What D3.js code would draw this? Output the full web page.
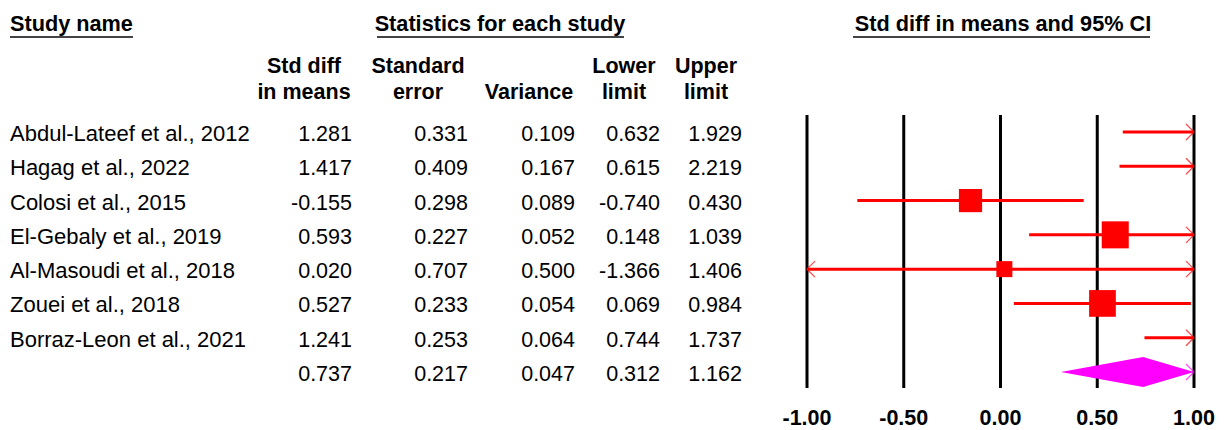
<!DOCTYPE html>
<html>
<head>
<meta charset="utf-8">
<script src="https://cdn.jsdelivr.net/npm/d3@7/dist/d3.min.js"></script>
<style>
  body { margin: 0; background: #fff; }
  svg text { font-family: "Liberation Sans", Arial, sans-serif; fill: #000; }
</style>
</head>
<body>
<script>
var studies = ["Abdul-Lateef et al., 2012", "Hagag et al., 2022", "Colosi et al., 2015",
    "El-Gebaly et al., 2019", "Al-Masoudi et al., 2018", "Zouei et al., 2018",
    "Borraz-Leon et al., 2021", ""];
var smd = [1.281, 1.417, -0.155, 0.593, 0.020, 0.527, 1.241, 0.737];
var stdErr = [0.331, 0.409, 0.298, 0.227, 0.707, 0.233, 0.253, 0.217];
var variance = [0.109, 0.167, 0.089, 0.052, 0.500, 0.054, 0.064, 0.047];
var lower = [0.632, 0.615, -0.740, 0.148, -1.366, 0.069, 0.744, 0.312];
var upper = [1.929, 2.219, 0.430, 1.039, 1.406, 0.984, 1.737, 1.162];
var axisTicks = [-1, -0.5, 0, 0.5, 1];

var columns = [
    { head: ["Std diff", "in means"], values: smd, right: 352, center: 304 },
    { head: ["Standard", "error"], values: stdErr, right: 468, center: 418 },
    { head: ["", "Variance"], values: variance, right: 575, center: 529 },
    { head: ["Lower", "limit"], values: lower, right: 660, center: 624 },
    { head: ["Upper", "limit"], values: upper, right: 742, center: 706 }
];

var svg = d3.select("body").append("svg")
    .attr("width", 1228)
    .attr("height", 430);

var x = d3.scaleLinear().domain([-1, 1]).range([807, 1194]);
var y = d3.scalePoint().domain(d3.range(studies.length)).range([132, 372]);
var boxSize = d3.scaleSqrt().domain([2, 19.2]).range([16, 27]);

// section titles
var titles = [
    { text: "Study name", x: 10, anchor: "start", x1: 10, x2: 133 },
    { text: "Statistics for each study", x: 500, anchor: "middle", x1: 377, x2: 624 },
    { text: "Std diff in means and 95% CI", x: 1003, anchor: "middle", x1: 853, x2: 1150 }
];
titles.forEach(function (t) {
    svg.append("text")
        .attr("x", t.x).attr("y", 31)
        .attr("text-anchor", t.anchor)
        .style("font-size", "21.7px").style("font-weight", "bold")
        .text(t.text);
    svg.append("line")
        .attr("x1", t.x1).attr("x2", t.x2)
        .attr("y1", 37).attr("y2", 37)
        .attr("stroke", "#444").attr("stroke-width", 2);
});

// column headers and values
columns.forEach(function (c) {
    c.head.forEach(function (h, i) {
        svg.append("text")
            .attr("x", c.center).attr("y", 73 + i * 26)
            .attr("text-anchor", "middle")
            .style("font-size", "21.5px").style("font-weight", "bold")
            .text(h);
    });
    svg.selectAll(null)
        .data(c.values)
        .enter()
        .append("text")
        .attr("x", c.right)
        .attr("y", function (d, i) { return y(i) + 9; })
        .attr("text-anchor", "end")
        .style("font-size", "21.5px")
        .text(function (d) { return d.toFixed(3); });
});

svg.selectAll(".study")
    .data(studies)
    .enter()
    .append("text")
    .attr("class", "study")
    .attr("x", 10)
    .attr("y", function (d, i) { return y(i) + 9; })
    .style("font-size", "22px")
    .text(function (d) { return d; });

// vertical reference lines
svg.selectAll(".vline")
    .data(axisTicks)
    .enter()
    .append("line")
    .attr("class", "vline")
    .attr("x1", function (d) { return x(d); })
    .attr("x2", function (d) { return x(d); })
    .attr("y1", 115).attr("y2", 388)
    .attr("stroke", "#000").attr("stroke-width", 3);

svg.selectAll(".tick")
    .data(axisTicks)
    .enter()
    .append("text")
    .attr("class", "tick")
    .attr("x", function (d) { return x(d); })
    .attr("y", 425)
    .attr("text-anchor", "middle")
    .style("font-size", "21.5px").style("font-weight", "bold")
    .text(function (d) { return d.toFixed(2); });

function clip(v) { return Math.max(-1, Math.min(1, v)); }

function arrow(px, py, dir, colour) {
    svg.append("path")
        .attr("d", "M" + (px - dir * 8) + "," + (py - 8) + "L" + px + "," + py + "L" + (px - dir * 8) + "," + (py + 8))
        .attr("fill", "none")
        .attr("stroke", colour)
        .attr("stroke-width", 1.3)
        .attr("opacity", 0.7);
}

// study CIs and boxes
var last = studies.length - 1;
d3.range(last).forEach(function (i) {
    var cy = y(i);
    svg.append("line")
        .attr("x1", x(clip(lower[i]))).attr("x2", x(clip(upper[i])))
        .attr("y1", cy).attr("y2", cy)
        .attr("stroke", "#ff0000").attr("stroke-width", 3);
    if (upper[i] > 1) arrow(x(1), cy, 1, "#ff0000");
    if (lower[i] < -1) arrow(x(-1), cy, -1, "#ff0000");
    if (smd[i] >= -1 && smd[i] <= 1) {
        var s = boxSize(1 / variance[i]);
        svg.append("rect")
            .attr("x", x(smd[i]) - s / 2).attr("y", cy - s / 2)
            .attr("width", s).attr("height", s)
            .attr("fill", "#ff0000");
    }
});

// summary diamond
var sy = y(last);
svg.append("path")
    .attr("d", "M" + x(clip(lower[last])) + "," + sy +
        "L" + x(smd[last]) + "," + (sy - 15) +
        "L" + x(clip(upper[last])) + "," + sy +
        "L" + x(smd[last]) + "," + (sy + 15) + "Z")
    .attr("fill", "#ff00ff");
if (upper[last] > 1) arrow(x(1), sy, 1, "#ff00ff");
</script>
</body>
</html>
